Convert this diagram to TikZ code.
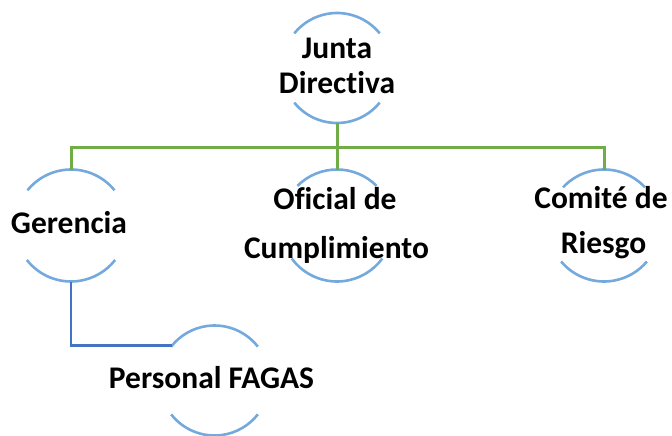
\documentclass[tikz,border=0pt]{standalone}
\usepackage{fontspec}
\setmainfont[Ligatures=NoCommon]{Carlito}
\definecolor{arcblue}{RGB}{116,169,222}
\definecolor{linegreen}{RGB}{112,173,71}
\definecolor{lineblue}{RGB}{68,114,196}
\begin{document}
\begin{tikzpicture}[x=1pt,y=1pt,
  ring/.style={circle,minimum size=#1,inner sep=0pt,outer sep=0pt},
  lbl/.style={anchor=base,inner sep=0pt,font=\fontsize{31.5}{38}\selectfont\bfseries},
  arcline/.style={draw=arcblue,line width=2.6pt},
  greenline/.style={draw=linegreen,line width=3pt},
  blueline/.style={draw=lineblue,line width=2.8pt}]
\useasboundingbox (0,0) rectangle (672,-436);
% circles (shape holders)
\node[ring=110] (JC) at (337,-68) {};
\node[ring=112] (GC) at (71,-225.5) {};
\node[ring=112] (OC) at (337,-225.5) {};
\node[ring=112] (CC) at (604,-225.5) {};
\node[ring=110] (PC) at (214.5,-380.5) {};
% arcs: name, radius, top angle, bottom angle
\newcommand\ringarcs[4]{%
  \draw[arcline] (#1.#3) arc[start angle=#3, end angle={180-#3}, radius=#2];
  \draw[arcline] (#1.{180+#4}) arc[start angle={180+#4}, end angle={360-#4}, radius=#2];}
\ringarcs{JC}{55}{39}{39}
\ringarcs{GC}{56}{39}{38}
\ringarcs{OC}{56}{45}{36}
\ringarcs{CC}{56}{43}{40}
\ringarcs{PC}{55}{38}{38}
% connectors
\draw[greenline] (JC.south) -- ++(0,-24) -| (GC.north);
\draw[greenline] (JC.south) -- ++(0,-24) -| (CC.north);
\draw[greenline] (JC.south) -- (OC.north);
\draw[blueline] (GC.south) |- (PC.141);
% labels
\node[lbl] (J1) at (337,-59) {Junta};
\node[lbl] (J2) at (337,-93) {Directiva};
\node[lbl] (G1) at (69,-233.5) {Gerencia};
\node[lbl] (O1) at (335,-209) {Oficial de};
\node[lbl] (O2) at (336.5,-258) {Cumplimiento};
\node[lbl] (C1) at (601,-208) {Comité de};
\node[lbl] (C2) at (603.5,-253) {Riesgo};
\node[lbl] (P1) at (211.5,-388.5) {Personal FAGAS};
\end{tikzpicture}
\end{document}
